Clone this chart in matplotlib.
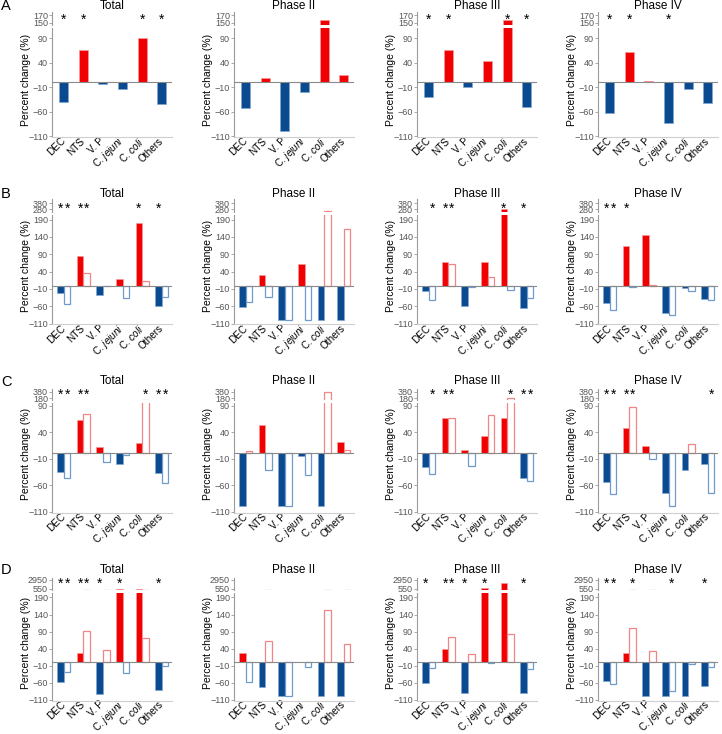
import matplotlib
matplotlib.use('Agg')
import matplotlib.pyplot as plt
from matplotlib.transforms import blended_transform_factory

plt.rcParams['font.family'] = ['Liberation Sans', 'DejaVu Sans']
plt.rcParams['mathtext.fontset'] = 'custom'
plt.rcParams['mathtext.it'] = 'Liberation Sans:italic'
plt.rcParams['mathtext.rm'] = 'Liberation Sans'

# categories and panels
cats = ['DEC', 'NTS', 'V. P', r'C. $\mathit{jejuni}$', r'C. $\mathit{coli}$', 'Others']
phases = ['Total', 'Phase II', 'Phase III', 'Phase IV']
letters = ['A', 'B', 'C', 'D']

# row A: one bar per category (Total, Phase II, Phase III, Phase IV)
a_vals = [[-41, 66, -3, -14, 91, -45],
          [-52, 8, -100, -20, 158, 15],
          [-31, 65, -9, 43, 156, -51],
          [-63, 61, 3, -83, -14, -42]]
a_stars = [[0, 1, 4, 5], [], [0, 1, 4, 5], [0, 1, 3]]

# rows B-D: filled and open bars
b_filled = [[-22, 86, -27, 18, 181, -58],
            [-61, 29, -100, 63, -100, -100],
            [-16, 67, -60, 69, 290, -66],
            [-51, 115, 145, -78, -8, -39]]
b_open = [[-53, 36, -1, -37, 14, -34],
          [-47, -32, -100, -100, 262, 162],
          [-42, 63, -5, 25, -14, -37],
          [-71, -3, 1, -86, -16, -43]]
b_star_f = [[0, 1, 4, 5], [], [1, 4, 5], [0, 1]]
b_star_o = [[0, 1], [], [0, 1], [0]]

c_filled = [[-35, 63, 12, -20, 20, -36],
            [-100, 53, -100, -4, -100, 22],
            [-25, 68, 7, 33, 67, -47],
            [-54, 49, 15, -75, -32, -20]]
c_open = [[-47, 75, -17, -2, 135, -55],
          [5, -31, -100, -41, 380, 7],
          [-39, 68, -23, 72, 180, -52],
          [-77, 88, -11, -100, 17, -74]]
c_star_f = [[0, 1, 5], [], [1, 5], [0, 1]]
c_star_o = [[0, 1, 4, 5], [], [0, 1, 4, 5], [0, 1, 5]]

d_filled = [[-59, 28, -94, 480, 560, -81],
            [28, -71, -100, 0, -100, -100],
            [-62, 39, -89, 600, 2100, -91],
            [-54, 28, -100, -100, -100, -69]]
d_open = [[-27, 92, 35, -30, 70, -11],
          [-59, 63, -100, -13, 152, 53],
          [-18, 73, 23, -3, 83, -21],
          [-65, 100, 34, -83, -6, -15]]
d_star_f = [[0, 1, 2, 3, 5], [], [0, 1, 2, 3, 5], [0, 5]]
d_star_o = [[0, 1], [], [1], [0, 1, 3]]

# layout (pixels from top) for each row
W, H = 722, 734
col_left = [52, 234, 417, 598]
col_w = 120
rows = [
    dict(lo=(28.3, 137.2), lo_lim=(-112, 110), hi=(12, 25), hi_lim=(144, 178),
         lo_ticks=[-110, -60, -10, 40, 90], hi_ticks=[150, 170], title=6, star=16),
    dict(lo=(215, 324.4), lo_lim=(-112, 203), hi=(199, 211.5), hi_lim=(247, 447),
         lo_ticks=[-110, -60, -10, 40, 90, 140, 190], hi_ticks=[280, 380], title=194, star=205),
    dict(lo=(402.7, 512.7), lo_lim=(-112, 96), hi=(389, 400), hi_lim=(128, 462),
         lo_ticks=[-110, -60, -10, 40, 90], hi_ticks=[180, 380], title=381.5, star=391),
    dict(lo=(592.7, 700.5), lo_lim=(-112, 204), hi=(578, 589.5), hi_lim=(300, 3400),
         lo_ticks=[-110, -60, -10, 40, 90, 140, 190], hi_ticks=[550, 2950], title=570, star=580),
]

BLUE, RED = '#0b4a8e', '#f00000'
BLUE_EDGE, RED_EDGE = '#7fa6d2', '#f79a9a'
OPEN_BLUE, OPEN_RED = '#6f9bcc', '#f08585'
SPINE = '#9a9a9a'
STAR_SIZE = 10

fig = plt.figure(figsize=(W / 100, H / 100), dpi=100)


def px_axes(left, top, bottom):
    ax = fig.add_axes([left / W, 1 - bottom / H, col_w / W, (bottom - top) / H])
    ax.patch.set_visible(False)
    return ax


def draw_bars(ax, x, vals, width, hollow):
    if hollow:
        ax.bar(x, vals, width, facecolor='white', linewidth=0.9,
               edgecolor=[OPEN_BLUE if v < 0 else OPEN_RED for v in vals])
    else:
        ax.bar(x, vals, width, linewidth=0.5,
               color=[BLUE if v < 0 else RED for v in vals],
               edgecolor=[BLUE_EDGE if v < 0 else RED_EDGE for v in vals])


row_data = [(a_vals, None, a_stars, None),
            (b_filled, b_open, b_star_f, b_star_o),
            (c_filled, c_open, c_star_f, c_star_o),
            (d_filled, d_open, d_star_f, d_star_o)]

x = list(range(len(cats)))
for r, lay in enumerate(rows):
    filled, opened, star_f, star_o = row_data[r]
    fig.text(1 / W, 1 - (lay['title'] + 0.5) / H, letters[r], fontsize=10.5,
             ha='left', va='center')
    for c, phase in enumerate(phases):
        left = col_left[c]
        ax_lo = px_axes(left, lay['lo'][0], lay['lo'][1])
        ax_hi = px_axes(left, lay['hi'][0], lay['hi'][1])

        #1.- bars in both parts of the broken axis
        for ax in (ax_lo, ax_hi):
            if opened is None:
                draw_bars(ax, x, filled[c], 0.46, False)
            else:
                draw_bars(ax, [i - 0.17 for i in x], filled[c], 0.34, False)
                draw_bars(ax, [i + 0.17 for i in x], opened[c], 0.34, True)
            ax.set_xlim(-0.6, 5.52)
            ax.spines['top'].set_visible(False)
            ax.spines['right'].set_visible(False)
            ax.spines['left'].set_color(SPINE)
            ax.spines['left'].set_linewidth(0.8)
            ax.tick_params(axis='y', length=2, width=0.6, color=SPINE, labelsize=6.5,
                           labelcolor='#555555', pad=1)

        ax_lo.set_ylim(*lay['lo_lim'])
        ax_lo.set_yticks(lay['lo_ticks'])
        ax_lo.axhline(0, color='#8a8a8a', lw=0.8, zorder=3)
        ax_lo.spines['bottom'].set_color('#cfcfcf')
        ax_lo.spines['bottom'].set_linewidth(0.8)
        ax_lo.set_xticks(x)
        ax_lo.set_xticklabels(cats, rotation=45, ha='right', va='center',
                              rotation_mode='anchor', fontsize=7.2)
        ax_lo.tick_params(axis='x', length=0, pad=1.5)
        ax_lo.set_ylabel('Percent change (%)', fontsize=7.5)
        ax_lo.yaxis.set_label_coords(-21 / col_w, 0.53)

        ax_hi.set_ylim(*lay['hi_lim'])
        ax_hi.set_yticks(lay['hi_ticks'])
        ax_hi.spines['bottom'].set_visible(False)
        ax_hi.set_xticks([])

        #2.- titles and significance stars
        fig.text((left + col_w / 2) / W, 1 - lay['title'] / H, phase,
                 ha='center', va='center', fontsize=8.5)
        trans = blended_transform_factory(ax_lo.transData, fig.transFigure)
        sy = 1 - (lay['star'] + 0.58 * STAR_SIZE * 1.39) / H
        if star_o is None:
            marks = [i for i in star_f[c]]
        else:
            marks = [i - 0.17 for i in star_f[c]] + [i + 0.17 for i in star_o[c]]
        for sx in marks:
            fig.text(sx, sy, '*', transform=trans, ha='center',
                     va='baseline', fontsize=STAR_SIZE, zorder=10)

fig.savefig('out.png', dpi=100)
